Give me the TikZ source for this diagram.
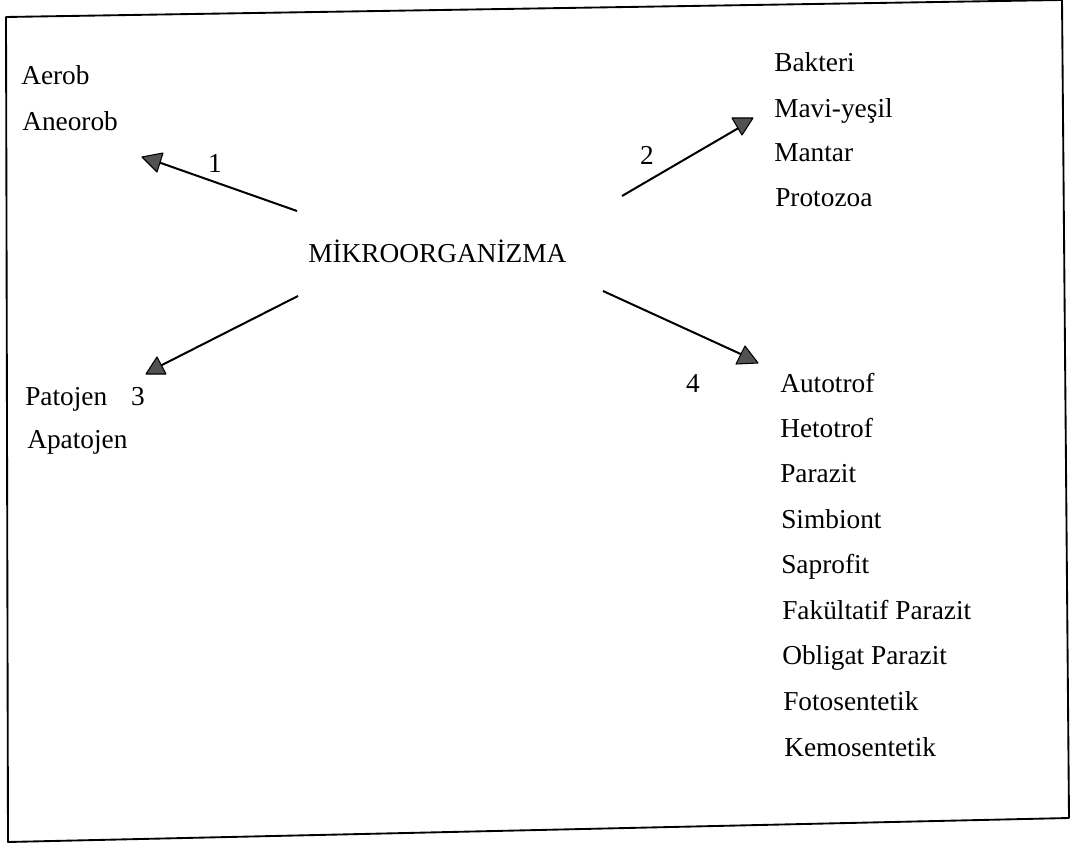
\documentclass[tikz,border=0pt]{standalone}
\usepackage{fontspec}
\setmainfont{Liberation Serif}
\begin{document}
\begin{tikzpicture}[x=0.75pt,y=-0.75pt,
  txt/.style={font=\fontsize{20.5}{24}\selectfont, inner sep=0pt, anchor=base west},
  num/.style={font=\fontsize{20.5}{24}\selectfont, inner sep=0pt, anchor=base},
  conn/.style={line width=1.5pt},
  head/.style={fill=black!68, draw=black, line width=0.8pt, line join=round},
  frame/.style={line width=1.4pt, line join=round}]
\useasboundingbox (0,0) rectangle (1071,852);
\draw[frame] (6,17) -- (1062,0) -- (1069,818) -- (8,842) -- cycle;

% centre
\node[txt] (m) at (308,263) {MİKROORGANİZMA};

% group 1
\node[txt] (aerob) at (21,85) {Aerob};
\node[txt] (aneorob) at (22,131) {Aneorob};
% group 2
\node[txt] (bakteri) at (774,72) {Bakteri};
\node[txt] (mavi) at (774,118) {Mavi-yeşil};
\node[txt] (mantar) at (774,162) {Mantar};
\node[txt] (protozoa) at (775,207) {Protozoa};
% group 3
\node[txt] (patojen) at (25,405) {Patojen};
\node[txt] (apatojen) at (27,448) {Apatojen};
% group 4
\node[txt] (autotrof) at (780,392) {Autotrof};
\node[txt] (hetotrof) at (780,437) {Hetotrof};
\node[txt] (parazit) at (780,482) {Parazit};
\node[txt] (simbiont) at (781,528) {Simbiont};
\node[txt] (saprofit) at (781,573) {Saprofit};
\node[txt] (fakultatif) at (782,619) {Fakültatif Parazit};
\node[txt] (obligat) at (782,664) {Obligat Parazit};
\node[txt] (foto) at (783,710) {Fotosentetik};
\node[txt] (kemo) at (784,756) {Kemosentetik};

% numbers
\node[num] (n1) at (215,173) {1};
\node[num] (n2) at (647,165) {2};
\node[num] (n3) at (138,405) {3};
\node[num] (n4) at (693,392) {4};

% connectors
\coordinate (t1) at (297,211); \coordinate (e1) at (158,162);
\coordinate (t2) at (622,196); \coordinate (e2) at (742,126);
\coordinate (t3) at (298,296); \coordinate (e3) at (160,366);
\coordinate (t4) at (603,291); \coordinate (e4) at (745,356);
\draw[conn] (t1) -- (e1);
\draw[conn] (t2) -- (e2);
\draw[conn] (t3) -- (e3);
\draw[conn] (t4) -- (e4);

% arrow heads
\draw[head] (142,157) -- (163,153) -- (157,172) -- cycle;
\draw[head] (732,118) -- (753,118) -- (742,135) -- cycle;
\draw[head] (146,374) -- (166,374) -- (157,357) -- cycle;
\draw[head] (736,364) -- (758,363) -- (745,346) -- cycle;
\end{tikzpicture}
\end{document}
